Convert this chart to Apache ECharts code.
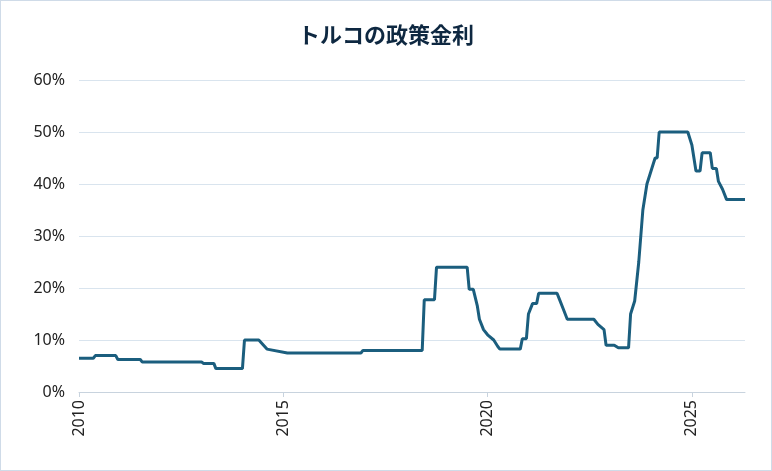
<!DOCTYPE html>
<html><head><meta charset="utf-8">
<script src="https://cdn.jsdelivr.net/npm/echarts@6/dist/echarts.min.js"></script>
<style>html,body{margin:0;padding:0;background:#fff}#c{width:772px;height:471px;box-sizing:border-box;border:1px solid #cfdbe8}</style>
</head><body><div id="c"></div>
<script>
// year (fractional) and policy rate (%)
const years = [2010.0, 2010.35, 2010.4, 2010.9, 2010.95, 2011.5, 2011.55, 2013.0, 2013.05, 2013.3, 2013.35, 2014.0, 2014.05, 2014.4, 2014.6, 2015.1, 2016.9, 2016.95, 2018.4, 2018.45, 2018.7, 2018.75, 2019.5, 2019.55, 2019.65, 2019.75, 2019.8, 2019.9, 2020.0, 2020.15, 2020.25, 2020.3, 2020.8, 2020.85, 2020.95, 2021.0, 2021.1, 2021.2, 2021.25, 2021.7, 2021.75, 2021.85, 2021.95, 2022.6, 2022.7, 2022.85, 2022.9, 2023.1, 2023.2, 2023.45, 2023.5, 2023.6, 2023.7, 2023.8, 2023.9, 2024.0, 2024.1, 2024.15, 2024.2, 2024.9, 2025.0, 2025.1, 2025.2, 2025.25, 2025.45, 2025.5, 2025.6, 2025.65, 2025.75, 2025.85, 2026.3];
const rates = [6.5, 6.5, 7.0, 7.0, 6.25, 6.25, 5.75, 5.75, 5.5, 5.5, 4.5, 4.5, 10, 10, 8.25, 7.5, 7.5, 8.0, 8.0, 17.75, 17.75, 24, 24, 19.75, 19.75, 16.5, 14, 12, 11, 10, 8.75, 8.25, 8.25, 10.25, 10.25, 15, 17, 17, 19, 19, 18, 16, 14, 14, 13, 12, 9, 9, 8.5, 8.5, 15, 17.5, 25, 35, 40, 42.5, 45, 45, 50, 50, 47.5, 42.5, 42.5, 46, 46, 43, 43, 40.5, 39, 37, 37];
const yTicks = [0, 10, 20, 30, 40, 50, 60];

const chart = echarts.init(document.getElementById('c'));
chart.setOption({
  title: {
    text: 'トルコの政策金利', left: 'center', top: 18,
    textStyle: {fontFamily: 'Noto Sans CJK JP', fontSize: 22, fontWeight: 'bold', color: '#0e2841'}
  },
  grid: {left: 78, right: 26, top: 79, bottom: 78},
  xAxis: {
    type: 'value', min: 2010, max: 2026.3, interval: 5,
    axisLine: {lineStyle: {color: '#c8d3de'}},
    axisTick: {show: true, lineStyle: {color: '#c8d3de'}},
    splitLine: {show: false},
    axisLabel: {rotate: 90, showMaxLabel: false, fontSize: 16, color: '#222', fontFamily: 'Noto Sans', formatter: v => String(v)}
  },
  yAxis: {
    type: 'value', min: yTicks[0], max: yTicks[yTicks.length - 1], interval: 10,
    axisLine: {show: false}, axisTick: {show: false},
    splitLine: {lineStyle: {color: '#d9e4ee'}},
    axisLabel: {fontSize: 16, color: '#222', fontFamily: 'Noto Sans', formatter: '{value}%', margin: 14}
  },
  series: [{
    type: 'line', data: years.map((y, i) => [y, rates[i]]),
    showSymbol: false, lineStyle: {color: '#1b5e7e', width: 3}
  }]
});
</script></body></html>
